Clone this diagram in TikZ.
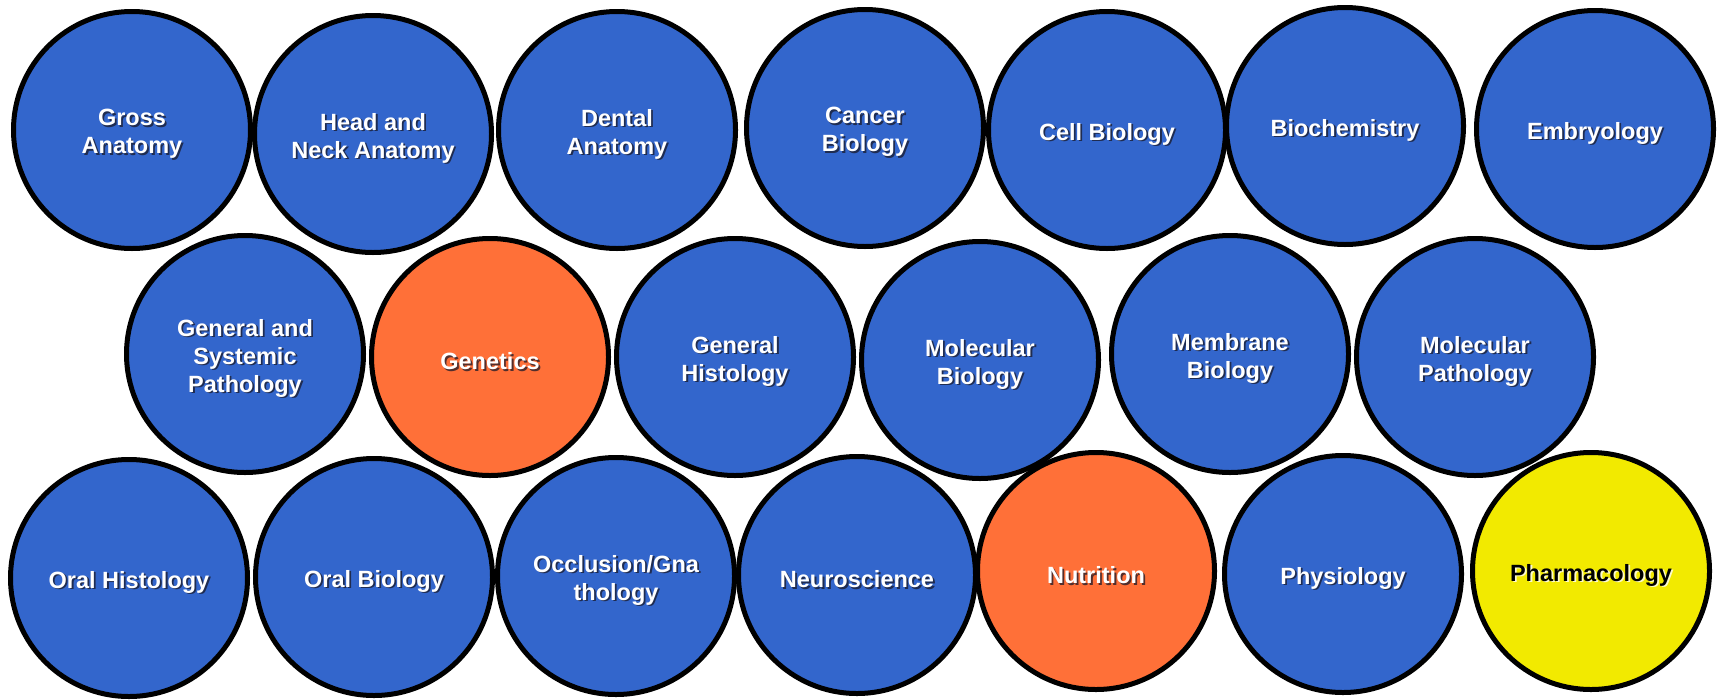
\documentclass[tikz,border=0pt]{standalone}
\usepackage{fontspec}
\setmainfont{Liberation Sans}
\definecolor{subjblue}{RGB}{51,102,204}
\definecolor{subjorange}{RGB}{255,112,56}
\definecolor{subjyellow}{RGB}{242,234,0}
\definecolor{shadowdark}{RGB}{25,25,40}
\tikzset{
  subject/.style={circle, draw=black, line width=5pt, minimum size=237pt, inner sep=0pt},
  subjtext/.style={align=center, font=\fontsize{23.5}{28}\selectfont\bfseries, inner sep=0pt},
  darkshadow/.style={subjtext, text=shadowdark, text opacity=0.75},
  lightshadow/.style={subjtext, text=white, text opacity=0.8},
}
% #1 name, #2 position, #3 fill, #4 text colour, #5 shadow style, #6 text
\newcommand\subjcircle[6]{%
  \node[subject, fill=#3] (#1) at (#2) {};
  \node[#5] (#1-shadow) at ([shift={(1.8,5.8)}]#1.center) {#6};
  \node[subjtext, text=#4] (#1-label) at ([shift={(0,4)}]#1.center) {#6};
}
\begin{document}
\begin{tikzpicture}[x=1pt,y=-1pt]
\useasboundingbox (0,0) rectangle (1721,699);
% row 1
\subjcircle{ga}{132,130}{subjblue}{white}{darkshadow}{Gross\\Anatomy}
\subjcircle{hn}{373,134}{subjblue}{white}{darkshadow}{Head and\\Neck Anatomy}
\subjcircle{da}{617,130}{subjblue}{white}{darkshadow}{Dental\\Anatomy}
\subjcircle{cb}{865,128}{subjblue}{white}{darkshadow}{Cancer\\Biology}
\subjcircle{cellb}{1107,130}{subjblue}{white}{darkshadow}{Cell Biology}
\subjcircle{bc}{1345,126}{subjblue}{white}{darkshadow}{Biochemistry}
\subjcircle{em}{1595,129}{subjblue}{white}{darkshadow}{Embryology}
% row 2
\subjcircle{gsp}{245,354}{subjblue}{white}{darkshadow}{General and\\Systemic\\Pathology}
\subjcircle{ge}{490,357}{subjorange}{white}{darkshadow}{Genetics}
\subjcircle{gh}{735,357}{subjblue}{white}{darkshadow}{General\\Histology}
\subjcircle{mb}{980,360}{subjblue}{white}{darkshadow}{Molecular\\Biology}
\subjcircle{memb}{1230,354}{subjblue}{white}{darkshadow}{Membrane\\Biology}
\subjcircle{mp}{1475,357}{subjblue}{white}{darkshadow}{Molecular\\Pathology}
% row 3
\subjcircle{oh}{129,578}{subjblue}{white}{darkshadow}{Oral Histology}
\subjcircle{ob}{374,577}{subjblue}{white}{darkshadow}{Oral Biology}
\subjcircle{og}{616,576}{subjblue}{white}{darkshadow}{Occlusion/Gna\\thology}
\subjcircle{ns}{857,575}{subjblue}{white}{darkshadow}{Neuroscience}
\subjcircle{nu}{1096,571}{subjorange}{white}{darkshadow}{Nutrition}
\subjcircle{ph}{1343,574}{subjblue}{white}{darkshadow}{Physiology}
\subjcircle{pc}{1591,571}{subjyellow}{black}{lightshadow}{Pharmacology}
\end{tikzpicture}
\end{document}
